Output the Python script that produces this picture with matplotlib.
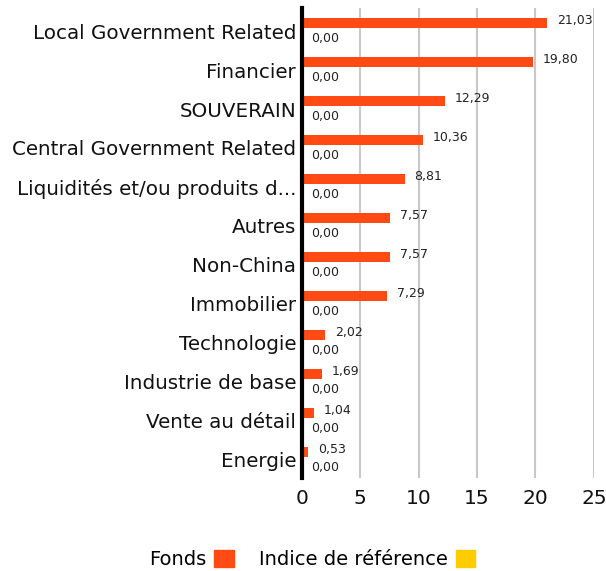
import numpy as np
import matplotlib
matplotlib.use("Agg")
from matplotlib import pyplot as plt
from matplotlib.patches import Patch

plt.rcParams['font.family'] = ['DejaVu Sans']

categories = ["Local Government Related", "Financier", "SOUVERAIN",
              "Central Government Related", "Liquidités et/ou produits d...",
              "Autres", "Non-China", "Immobilier", "Technologie",
              "Industrie de base", "Vente au détail", "Energie"]
fonds = [21.03, 19.80, 12.29, 10.36, 8.81, 7.57, 7.57, 7.29, 2.02, 1.69, 1.04, 0.53]
indice = [0.00] * 12
xticks = [0, 5, 10, 15, 20, 25]

orange = "#FF4A14"
yellow = "#FFCC00"

fig = plt.figure(figsize=(6.06, 5.71), dpi=100)
ax = fig.add_axes([0.498, 0.163, 0.482, 0.823])

y = np.arange(len(categories))
h = 0.26
off = 0.2
ax.barh(y - off, fonds, height=h, color=orange, zorder=3)
ax.barh(y + off, indice, height=h, color=yellow, zorder=3)

def fmt(v):
    return "{:.2f}".format(v).replace(".", ",")

for yi, v in zip(y, fonds):
    ax.annotate(fmt(v), (v, yi - off), xytext=(7, 2), textcoords="offset points",
                fontsize=9, va="center", ha="left", color="#222222")
for yi, v in zip(y, indice):
    ax.annotate(fmt(v), (v, yi + off), xytext=(7, 0), textcoords="offset points",
                fontsize=9, va="center", ha="left", color="#222222")

ax.set_yticks(y)
ax.set_yticklabels(categories, fontsize=14.3)
ax.set_ylim(len(categories) - 1 + 0.46, -0.59)
ax.set_xlim(0, 25)
ax.set_xticks(xticks)
ax.set_xticklabels([str(t) for t in xticks], fontsize=14.5)
ax.tick_params(axis="both", length=0, colors="#111111")
ax.tick_params(axis="y", pad=4)
ax.tick_params(axis="x", pad=8)
ax.grid(axis="x", color="#c8c8c8", linewidth=1.5, zorder=0)
for s in ["top", "right", "bottom"]:
    ax.spines[s].set_visible(False)
ax.spines["left"].set_linewidth(3)
ax.spines["left"].set_color("black")
ax.spines["left"].set_zorder(4)

handles = [Patch(color=orange, label="Fonds"), Patch(color=yellow, label="Indice de référence")]
fig.legend(handles=handles, loc="center", bbox_to_anchor=(0.515, 0.02), ncol=2,
           frameon=False, markerfirst=False, fontsize=14, handlelength=1.0,
           handleheight=1.0, handletextpad=0.4, columnspacing=1.3)

fig.savefig("out.png", dpi=100)
